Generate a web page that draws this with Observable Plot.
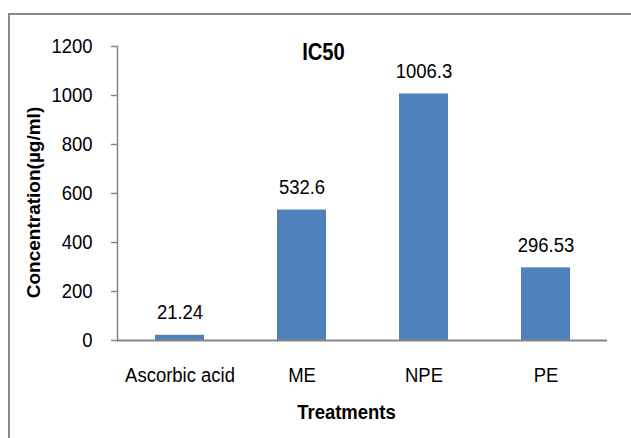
<!DOCTYPE html>
<html>
<head>
<meta charset="utf-8">
<script src="https://cdn.jsdelivr.net/npm/d3@7"></script>
<script src="https://cdn.jsdelivr.net/npm/@observablehq/plot@0.6"></script>
<style>
  html, body { margin: 0; padding: 0; background: #fff; overflow: hidden; }
  #wrap { position: relative; width: 631px; height: 438px; overflow: hidden; }
  #border { position: absolute; left: 8px; top: 13px; width: 800px; height: 600px;
            border-left: 2px solid #898989; border-top: 2px solid #898989; }
  #chart { position: absolute; left: 0; top: 0; }
</style>
</head>
<body>
<div id="wrap"><div id="border"></div><div id="chart"></div></div>
<script>
const categories = ["Ascorbic acid", "ME", "NPE", "PE"];
const values = [21.24, 532.6, 1006.3, 296.53];
const yTicks = [0, 200, 400, 600, 800, 1000, 1200];
const chartTitle = "IC50";
const xTitle = "Treatments";
const yTitle = "Concentration(µg/ml)";

const data = categories.map((c, i) => ({category: c, value: values[i]}));
const font = "'Liberation Sans', Arial, sans-serif";
const gray = "#868686";

const plot = Plot.plot({
  width: 631,
  height: 438,
  marginLeft: 117,
  marginRight: 24,
  marginTop: 46,
  marginBottom: 98,
  style: {fontFamily: font, fontSize: "21px", background: "transparent", color: "#000"},
  x: {domain: categories, paddingInner: 0.6, paddingOuter: 0.3, label: null},
  y: {domain: [0, 1200], label: null},
  marks: [
    Plot.barY(data, {x: "category", y: "value", fill: "#4F81BD"}),
    Plot.axisY({ticks: yTicks, tickFormat: d => String(d), tickSize: 6, tickPadding: 19, stroke: gray, strokeWidth: 1.5, fill: "#000", fontSize: 21, label: null}),
    Plot.axisX({tickSize: 0, tickPadding: 27, fill: "#000", fontSize: 21, label: null}),
    Plot.frame({anchor: "left", stroke: gray, strokeWidth: 1.5}),
    Plot.ruleY([0], {stroke: gray, strokeWidth: 2}),
    Plot.text(data, {x: "category", y: "value", text: d => String(d.value), lineAnchor: "bottom", dy: -16, fontSize: 21, fill: "#000"}),
    Plot.text([chartTitle], {frameAnchor: "top", dx: -39, dy: 13, lineAnchor: "bottom", fontWeight: "bold", fontSize: 23, fill: "#000"}),
    Plot.text([xTitle], {frameAnchor: "bottom", dx: -16, dy: 78, lineAnchor: "bottom", fontWeight: "bold", fontSize: 21, fill: "#000"}),
    Plot.text([yTitle], {frameAnchor: "left", textAnchor: "middle", rotate: -90, dx: -84, dy: 9, fontWeight: "bold", fontSize: 19, fill: "#000"})
  ]
});

// Horizontally condense horizontal text, as in the reference
d3.select(plot).selectAll("text").each(function() {
  if (this.textContent === yTitle) return;
  const t = this.getAttribute("transform") || "";
  this.setAttribute("transform", (t + " scale(0.88,1)").trim());
});

document.getElementById("chart").appendChild(plot);
</script>
</body>
</html>
